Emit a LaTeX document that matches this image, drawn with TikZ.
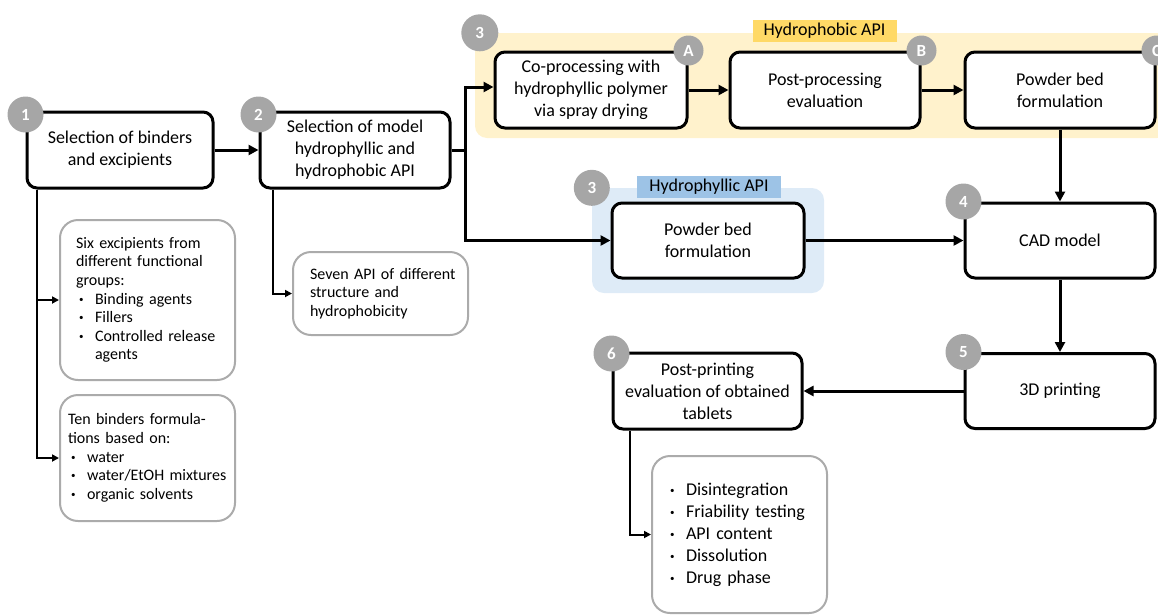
\documentclass[tikz,border=0pt]{standalone}
\usepackage{fontspec}
\setmainfont{Carlito}
\usepackage{tikz}
\usetikzlibrary{arrows.meta}
\usetikzlibrary{positioning}

\definecolor{dotgrey}{HTML}{A6A6A6}
\definecolor{notegrey}{HTML}{ABABAB}
\definecolor{phobbg}{HTML}{FFF2CC}
\definecolor{phobtag}{HTML}{FFD966}
\definecolor{philbg}{HTML}{DEEBF7}
\definecolor{philtag}{HTML}{9DC3E6}

\newcommand{\bigtxt}{\fontsize{18}{22}\selectfont}
\newcommand{\smalltxt}{\fontsize{16}{18.6}\selectfont\hyphenpenalty=10000}
\newcommand{\bul}{\makebox[19pt][l]{\hspace*{3pt}\raisebox{2pt}{\fontsize{9}{9}\selectfont\textbullet}}}

\tikzset{
  stepbox/.style={draw, line width=3pt, rounded corners=10pt, fill=white,
    align=center, minimum width=190pt, minimum height=76pt, font=\bigtxt},
  notebox/.style={draw=notegrey, line width=2pt, rounded corners=18pt, fill=white,
    align=left, minimum width=175pt, font=\smalltxt},
  numdot/.style={circle, fill=dotgrey, text=white, font=\fontsize{17}{17}\selectfont\bfseries,
    minimum size=36pt, inner sep=0pt},
  letdot/.style={numdot, minimum size=30pt},
  zone/.style={rounded corners=12pt, inner sep=0pt},
  apitag/.style={font=\bigtxt, inner sep=0pt, minimum height=22pt, minimum width=144pt},
  flow/.style={line width=3pt, -{Triangle[length=10pt,width=10pt]}},
  sideflow/.style={line width=2pt, -{Triangle[length=7pt,width=7pt]}}
}

\begin{document}
\begin{tikzpicture}[x=1pt,y=-1pt]
  \useasboundingbox (0,0) rectangle (1158,614);

  %coloured zones for the two API routes
  \node[zone, fill=phobbg, minimum width=694pt, minimum height=105pt] (phobZone) at (822,85.5) {};
  \node[zone, fill=philbg, minimum width=232pt, minimum height=105pt] (philZone) at (708,240.5) {};
  \node[apitag, fill=phobtag] (phobTag) at (824.5,31) {Hydrophobic API};
  \node[apitag, fill=philtag] (philTag) at (709,186.5) {Hydrophyllic API};

  %main steps
  \node[stepbox, minimum width=186pt] (sel1) at (120,150) {Selection of binders\\and excipients};
  \node[stepbox] (sel2) at (355,150) {Selection of model\\hydrophyllic and\\hydrophobic API};
  \node[stepbox, minimum width=192pt] (coA) at (591,90) {Co-processing with\\hydrophyllic polymer\\via spray drying};
  \node[stepbox] (postB) at (825,90) {Post-processing\\evaluation};
  \node[stepbox] (pbC) at (1060,90) {Powder bed\\formulation};
  \node[stepbox, minimum width=192pt, minimum height=75pt] (pbPhil) at (708,240.5) {Powder bed\\formulation};
  \node[stepbox, minimum height=75pt] (cad) at (1060,240.5) {CAD model};
  \node[stepbox, minimum height=75pt] (print3d) at (1060,391) {3D printing};
  \node[stepbox, minimum width=189pt] (eval6) at (707.5,391) {Post-printing\\evaluation of obtained\\tablets};

  %grey notes
  \node[notebox, text width=143pt, inner xsep=16pt, minimum height=160pt] (six) at (147.5,300)
    {Six excipients from\\different functional\\groups:\\\bul Binding agents\\\bul Fillers\\\bul Controlled release\\\hspace*{19pt}agents};
  \node[notebox, text width=159pt, inner xsep=8pt, minimum height=126pt] (ten) at (147.5,458)
    {Ten binders formula-\\tions based on:\\\bul water\\\bul water/EtOH mixtures\\\bul organic solvents};
  \node[notebox, text width=153pt, inner xsep=11pt, minimum height=83pt] (seven) at (380.5,293.5)
    {\hspace*{6pt}Seven API of different\\\hspace*{6pt}structure and\\\hspace*{6pt}hydrophobicity};
  \node[notebox, font=\bigtxt, text width=145pt, inner xsep=15pt, minimum height=157pt] (tests) at (739.5,534.5)
    {\bul Disintegration\\\bul Friability testing\\\bul API content\\\bul Dissolution\\\bul Drug phase};

  %connectors
  \coordinate (split) at (465,150);
  \draw[flow] (sel1) -- (sel2);
  \draw[line width=3pt] (sel2.east) -- (split);
  \draw[flow] (split) |- ([yshift=3pt]coA.west);
  \draw[flow] (split) |- (pbPhil.west);
  \draw[flow] (coA) -- (postB);
  \draw[flow] (postB) -- (pbC);
  \draw[flow] (pbC) -- (cad);
  \draw[flow] (pbPhil) -- (cad);
  \draw[flow] (cad) -- (print3d);
  \draw[flow] (print3d) -- (eval6);
  \draw[sideflow] ([xshift=11.5pt]sel1.south west) |- (six.west);
  \draw[sideflow] ([xshift=11.5pt]sel1.south west) |- (ten.west);
  \draw[sideflow] ([xshift=14.5pt]sel2.south west) |- (seven.west);
  \draw[sideflow] ([xshift=18.5pt]eval6.south west) |- (tests.west);

  %numbered dots
  \node[numdot] (d1) at ([yshift=-4pt]sel1.north west) {1};
  \node[numdot] (d2) at ([yshift=-4pt]sel2.north west) {2};
  \node[numdot, minimum size=37pt] (d3a) at ([xshift=5pt]phobZone.north west) {3};
  \node[numdot] (d3b) at (philZone.north west) {3};
  \node[numdot] (d4) at (cad.north west) {4};
  \node[numdot] (d5) at (print3d.north west) {5};
  \node[numdot] (d6) at ([yshift=-2pt]eval6.north west) {6};
  \node[letdot] (dA) at (coA.north east) {A};
  \node[letdot] (dB) at (postB.north east) {B};
  \node[letdot] (dC) at (pbC.north east) {C};
\end{tikzpicture}
\end{document}
